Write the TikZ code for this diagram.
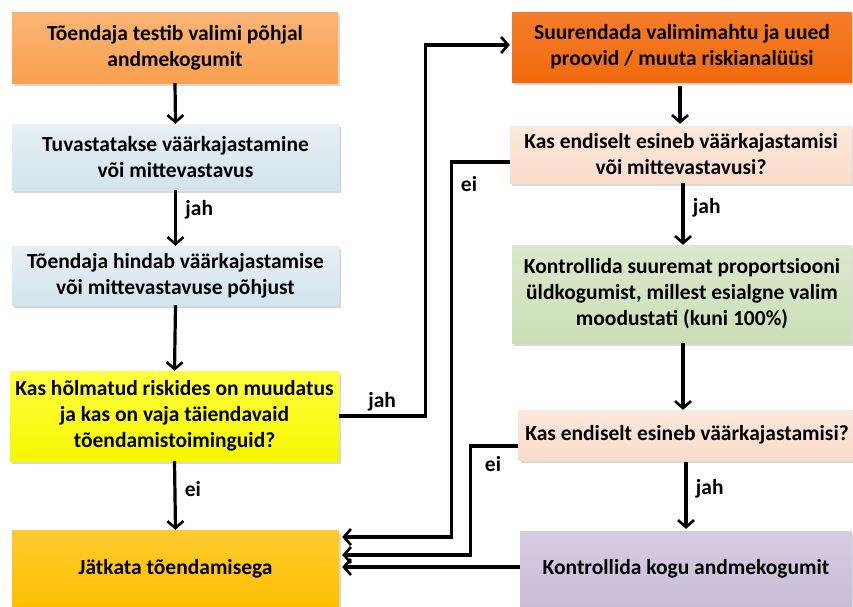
\documentclass[tikz,border=0pt]{standalone}
\usepackage{fontspec}
\setmainfont{Carlito}
\usetikzlibrary{arrows.meta,shadows,calc}
\definecolor{orA}{HTML}{F9A04E}
\definecolor{orAt}{HTML}{FBB575}
\definecolor{blu}{HTML}{D3E4EC}
\definecolor{blut}{HTML}{E6F0F5}
\definecolor{yel}{HTML}{F7F700}
\definecolor{yelt}{HTML}{FFFF40}
\definecolor{gold}{HTML}{FFBF00}
\definecolor{goldt}{HTML}{FFCB30}
\definecolor{orB}{HTML}{F26A0C}
\definecolor{orBt}{HTML}{F57D2A}
\definecolor{pch}{HTML}{FADCCA}
\definecolor{pcht}{HTML}{FCE8DC}
\definecolor{grn}{HTML}{CCDFB8}
\definecolor{grnt}{HTML}{DAE8CB}
\definecolor{prp}{HTML}{C9BDD8}
\definecolor{prpt}{HTML}{D6CCE2}
\begin{document}
\begin{tikzpicture}[x=1pt,y=-1pt,
  box/.style={rectangle, align=center, inner sep=1pt,
    font=\fontsize{21.5}{26}\selectfont\bfseries,
    drop shadow={opacity=0.3,shadow xshift=2pt,shadow yshift=-2.5pt}},
  arr/.style={line width=3.2pt, line join=miter,
    -{Straight Barb[length=7pt,width=16pt,line width=2.6pt]}},
  lbl/.style={font=\fontsize{21.5}{24}\selectfont\bfseries}]
\useasboundingbox (0,0) rectangle (853,606);
% left column
\node[box, top color=orAt, bottom color=orA, minimum width=326, minimum height=71] (b1) at (175,47.5)
  {Tõendaja testib valimi põhjal\\andmekogumit};
\node[box, top color=blut, bottom color=blu, minimum width=327, minimum height=66] (b2) at (175.5,157)
  {Tuvastatakse väärkajastamine\\või mittevastavus};
\node[box, top color=blut, bottom color=blu, minimum width=327, minimum height=59] (b3) at (175.5,275.5)
  {Tõendaja hindab väärkajastamise\\või mittevastavuse põhjust};
\node[box, top color=yelt, bottom color=yel, minimum width=329, minimum height=90] (b4) at (174.5,416)
  {Kas hõlmatud riskides on muudatus\\ja kas on vaja täiendavaid\\tõendamistoiminguid?};
\node[box, top color=goldt, bottom color=gold, minimum width=327, minimum height=78] (b5) at (175.5,569)
  {Jätkata tõendamisega};
% right column
\node[box, top color=orBt, bottom color=orB, minimum width=340, minimum height=70] (b6) at (682,47)
  {Suurendada valimimahtu ja uued\\proovid / muuta riskianalüüsi};
\node[box, top color=pcht, bottom color=pch, minimum width=342, minimum height=57] (b7) at (681,154.5)
  {Kas endiselt esineb väärkajastamisi\\või mittevastavusi?};
\node[box, top color=grnt, bottom color=grn, minimum width=340, minimum height=98] (b8) at (682,294)
  {Kontrollida suuremat proportsiooni\\üldkogumist, millest esialgne valim\\moodustati (kuni 100\%)};
\node[box, top color=pcht, bottom color=pch, minimum width=337, minimum height=50] (b9) at (687,435)
  {Kas endiselt esineb väärkajastamisi?};
\node[box, top color=prpt, bottom color=prp, minimum width=332, minimum height=76] (b10) at (686,569)
  {Kontrollida kogu andmekogumit};
% vertical arrows
\draw[arr] (b1.south) -- (b2.north);
\draw[arr] (b2.south) -- node[lbl, right=5pt, pos=0.35] (l1) {jah} (b3.north);
\draw[arr] (b3.south) -- (b4.north);
\draw[arr] (b4.south) -- node[lbl, right=5pt, pos=0.4] (l2) {ei} (b5.north);
\draw[arr] ($(b6.south)+(-2,4)$) -- ($(b7.north)+(-1,-2)$);
\draw[arr] ($(b7.south)+(2,0)$) -- node[lbl, right=5pt, pos=0.4] (l3) {jah} ($(b8.north)+(1,0)$);
\draw[arr] ($(b8.south)+(1,0)$) -- ($(b9.north)+(-4,0)$);
\draw[arr] ($(b9.south)+(-1,2)$) -- node[lbl, right=5pt, pos=0.4] (l4) {jah} ($(b10.north)+(0,-2)$);
% side connectors
\coordinate (j1) at ($(b4.east)+(86,0)$);
\draw[arr] (b4.east) -- node[lbl, above=0pt, pos=0.5] (l5) {jah} (j1) |- ($(b6.west)+(-2,-2)$);
\coordinate (e1) at ($(b7.west)+(-58,7.5)$);
\draw[arr] ($(b7.west)+(0,7.5)$) -- (e1) |- ($(b5.east)+(3,-32)$);
\node[lbl] (l6) at (469,184) {ei};
\coordinate (e2) at ($(b9.west)+(-48,11)$);
\draw[arr] ($(b9.west)+(0,11)$) -- (e2) |- ($(b5.east)+(3,-14)$);
\node[lbl] (l7) at (493,464) {ei};
\draw[arr] ($(b10.west)+(0,-2)$) -- ($(b5.east)+(3,-2)$);
\end{tikzpicture}
\end{document}
